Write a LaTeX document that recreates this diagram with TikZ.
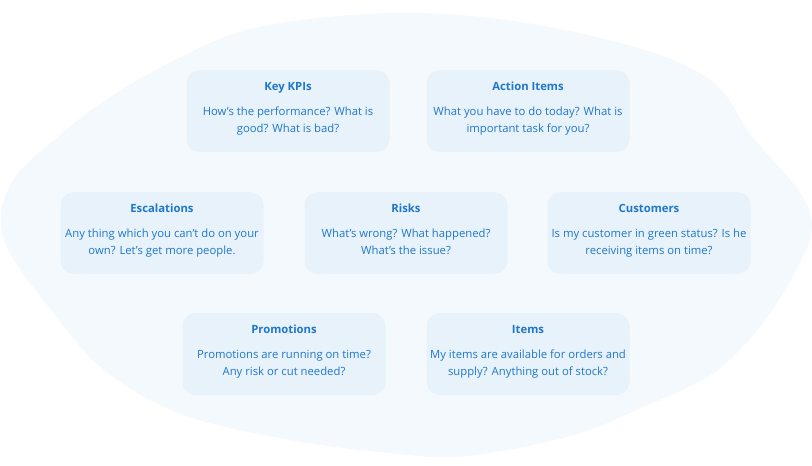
\documentclass[tikz,border=0pt]{standalone}
\usepackage{fontspec}
\setmainfont{Open Sans}
\usepackage{tikz}
\usetikzlibrary{positioning}

\definecolor{blobfill}{HTML}{F4F9FD}
\definecolor{cardfill}{HTML}{E8F2FB}
\definecolor{cardtext}{HTML}{1F77C9}

\begin{document}
\begin{tikzpicture}[x=1pt,y=-1pt,
  card/.style={fill=cardfill,rounded corners=13pt,minimum width=203pt,minimum height=82pt,
    align=center,text=cardtext,font=\fontsize{11.3}{17}\selectfont,inner sep=0pt,text depth=11pt}]
\useasboundingbox[fill=white] (0,0) rectangle (812,466);
% background blob
\fill[blobfill] plot[smooth cycle,tension=0.6] coordinates {
  (394,13) (520,22) (648,51) (715,84) (751,135) (798,190) (812,228)
  (795,272) (762,324) (715,372) (648,405) (570,436) (466,456) (389,453)
  (285,439) (181,414) (104,370) (52,311) (10,253) (1,215) (16,176)
  (52,142) (104,101) (181,57) (259,27)};
% top row
\node[card] (kpis) at (288,111) {\strut\textbf{Key KPIs}\\[8pt]\strut How’s the performance? What is\\\strut good? What is bad?};
\node[card] (actions) at (528,111) {\strut\textbf{Action Items}\\[8pt]\strut What you have to do today? What is\\\strut important task for you?};
% middle row
\node[card] (escal) at (162,233) {\strut\textbf{Escalations}\\[8pt]\strut Any thing which you can’t do on your\\\strut own? Let’s get more people.};
\node[card] (risks) at (406,233) {\strut\textbf{Risks}\\[8pt]\strut What’s wrong? What happened?\\\strut What’s the issue?};
\node[card] (cust) at (649,233) {\strut\textbf{Customers}\\[8pt]\strut Is my customer in green status? Is he\\\strut receiving items on time?};
% bottom row
\node[card] (promo) at (284,354) {\strut\textbf{Promotions}\\[8pt]\strut Promotions are running on time?\\\strut Any risk or cut needed?};
\node[card] (items) at (528,354) {\strut\textbf{Items}\\[8pt]\strut My items are available for orders and\\\strut supply? Anything out of stock?};
\end{tikzpicture}
\end{document}
